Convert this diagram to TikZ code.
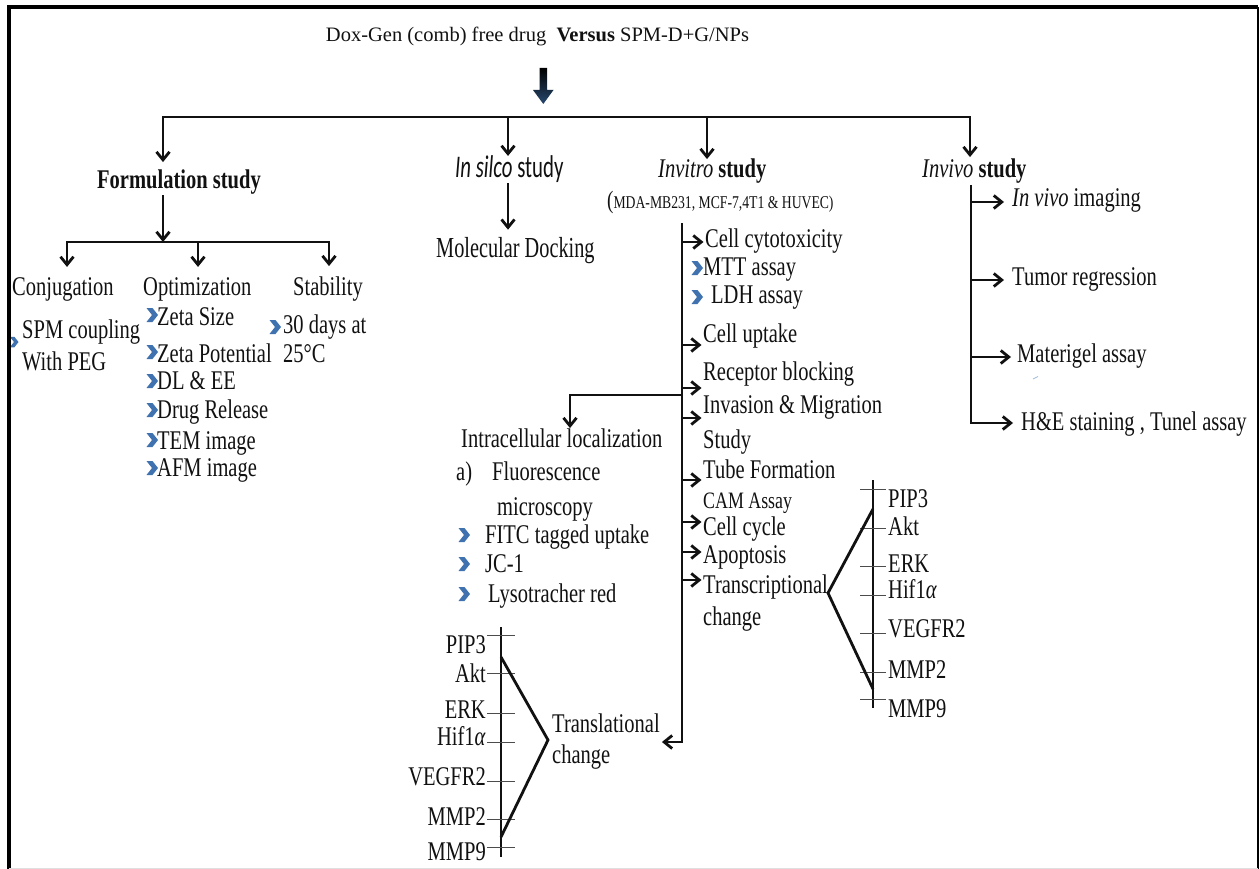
\documentclass[tikz,border=0pt]{standalone}
\usepackage{fontspec}
\setmainfont{Liberation Serif}
\newfontfamily\fcond{Liberation Serif}[FakeStretch=0.76]
\newfontfamily\fcondb{Liberation Serif}[FakeStretch=0.7]
\newfontfamily\fcal{Carlito}[FakeStretch=0.66]
\usetikzlibrary{arrows.meta}
\definecolor{chevc}{HTML}{3F72AF}
\definecolor{ink}{HTML}{111111}
\tikzset{
  txt/.style={font=\fcond\fontsize{27}{30}\selectfont, inner sep=0pt, anchor=base west, text=ink},
  txtb/.style={txt, font=\fcond\bfseries\fontsize{27}{30}\selectfont},
  small/.style={txt, font=\fcond\fontsize{18}{20}\selectfont},
  ln/.style={line width=2.8pt, draw=ink},
  arr/.style={ln, -{Straight Barb[length=8pt,width=13pt]}},
  tickln/.style={line width=1pt, draw=ink!75},
  axisln/.style={line width=2.2pt, draw=ink},
  chev/.pic={\fill[chevc] (-5.5,-7) -- (0.5,-7) -- (6,0) -- (0.5,7) -- (-5.5,7) -- (0,0) -- cycle;}
}
\begin{document}
\begin{tikzpicture}[x=1pt,y=-1pt]
\useasboundingbox (0,0) rectangle (1260,869);
\fill[white] (0,0) rectangle (1260,869);

% chevron partly under the frame
\pic[scale=0.75] at (14,342) {chev};

% frame
\draw[line width=4pt] (9,869) -- (9,7) -- (1258,7);
\draw[line width=2pt] (1258,7) -- (1258,869);
\draw[line width=1pt, gray!25] (9,868.5) -- (1258,868.5);

% title
\node[inner sep=0pt, anchor=base, font=\fontsize{20.5}{24}\selectfont, text=ink] (title) at (537.5,42)
  {Dox-Gen (comb) free drug\ \ \textbf{Versus} SPM-D+G/NPs};
\shade[top color=black, bottom color={rgb,255:red,40;green,72;blue,110}]
  (539.5,68) -- (547,68) -- (547,90) -- (553.5,90) -- (543.3,104) -- (533,90) -- (539.5,90) -- cycle;

% headers
\node[txtb] (form) at (97,189) {Formulation study};
\node[txt, font=\fcal\fontsize{31.5}{34}\selectfont] (silico) at (455,178) {\textit{In silco} study};
\node[txt] (invitro) at (658,178) {\textit{Invitro} \textbf{study}};
\node[txt] (invivo) at (922,178) {\textit{Invivo} \textbf{study}};

% main distribution line
\coordinate (mL) at (163,117);
\coordinate (mS) at (508,117);
\coordinate (mV) at (707,117);
\coordinate (mR) at (970,117);
\draw[arr, shorten >=8pt] (mR) -- (mL) -- (mL |- form.north);
\draw[arr, shorten >=2pt] (mL) -- (mR) -- (mR |- invivo.north);
\draw[arr] (mS) -- (mS |- silico.north);
\draw[arr] (mV) -- (mV |- invitro.north);

% formulation study
\node[txt] (conj) at (12,295) {Conjugation};
\node[txt] (opt) at (143,295) {Optimization};
\node[txt] (stab) at (293,295) {Stability};
\coordinate (fj) at (163,242);
\coordinate (fa) at (67,242);
\coordinate (fb) at (198,242);
\coordinate (fc) at (329,242);
\draw[arr] (fj |- form.south) -- (fj);
\draw[arr, shorten >=10pt] (fc) -- (fa) -- (fa |- conj.north);
\draw[arr, shorten >=10pt] (fa) -- (fc) -- (fc |- stab.north);
\draw[arr, shorten >=10pt] (fb) -- (fb |- opt.north);

\node[txt] (spm) at (22,338) {SPM coupling};
\node[txt] (peg) at (22,370) {With PEG};
\node[txt] (zs) at (157,325) {Zeta Size};
\node[txt] (zp) at (157,362) {Zeta Potential};
\node[txt] (dl) at (157,389) {DL \& EE};
\node[txt] (dr) at (157,418) {Drug Release};
\node[txt] (tem) at (157,449) {TEM image};
\node[txt] (afm) at (157,476) {AFM image};
\node[txt] (days) at (283,333) {30 days at};
\node[txt] (c25) at (283,362) {25°C};
\pic at (152,315) {chev};
\pic at (152,352) {chev};
\pic at (152,381) {chev};
\pic at (152,410) {chev};
\pic at (152,440) {chev};
\pic at (152,468) {chev};
\pic at (275,327) {chev};

% in silico
\node[txt, font=\fcondb\fontsize{29}{32}\selectfont] (dock) at (436,257) {Molecular Docking};
\draw[arr, shorten >=7pt] (mS |- silico.south) -- (mS |- dock.north);

% in vitro
\node[small] (cells) at (607,208) {{\fontsize{25}{25}\selectfont(}MDA-MB231, MCF-7,4T1 \& HUVEC)};
\node[txt] (cyt) at (705,247) {Cell cytotoxicity};
\node[txt] (mtt) at (703,275) {MTT assay};
\node[txt] (ldh) at (711,303) {LDH assay};
\node[txt] (upt) at (703,342) {Cell uptake};
\node[txt] (rec) at (703,380) {Receptor blocking};
\node[txt] (inv) at (703,413) {Invasion \& Migration};
\node[txt] (inv2) at (703,448) {Study};
\node[txt] (tube) at (703,478) {Tube Formation};
\node[txt, font=\fcond\fontsize{23.5}{26}\selectfont] (cam) at (703,508) {CAM Assay};
\node[txt] (cyc) at (703,535) {Cell cycle};
\node[txt] (apo) at (703,563) {Apoptosis};
\node[txt] (trans) at (703,593) {Transcriptional};
\node[txt] (trans2) at (703,625) {change};
\pic at (697,268) {chev};
\pic at (697,297) {chev};

\coordinate (tT) at (682,223);
\coordinate (tB) at (682,742);
\coordinate (b-cyt) at (682,242);
\coordinate (b-upt) at (682,345);
\coordinate (b-rec) at (682,388);
\coordinate (b-inv) at (682,418);
\coordinate (b-tube) at (682,480);
\coordinate (b-cyc) at (682,522);
\coordinate (b-apo) at (682,552);
\coordinate (b-trans) at (682,580);
\foreach \n in {cyt,upt,rec,inv,tube,cyc,apo,trans}
  \draw[arr, shorten >=1.5pt] (b-\n) -- (b-\n -| \n.west);

% intracellular localization
\node[txt] (intra) at (461,447) {Intracellular localization};
\node[txt] (ia) at (456,480) {a)};
\node[txt] (fluo) at (492,480) {Fluorescence};
\node[txt] (micro) at (497,515) {microscopy};
\node[txt] (fitc) at (485,543) {FITC tagged uptake};
\node[txt] (jc) at (485,572) {JC-1};
\node[txt] (lyso) at (488,602) {Lysotracher red};
\pic at (464,535) {chev};
\pic at (464,564) {chev};
\pic at (464,594) {chev};
\coordinate (bI) at (682,395);
\coordinate (bIc) at (570,395);
\draw[arr] (bI) -- (bIc) -- (bIc |- intra.north);

% translational change
\node[txt] (trl) at (552,732) {Translational};
\node[txt] (trl2) at (552,763) {change};
\draw[arr, shorten >=2pt] (tT) -- (tB) -- (tB -| trl.east);
\coordinate (tlT) at (501,627);
\coordinate (tlB) at (501,857);
\draw[axisln] (tlT) -- (tlB);
\foreach \y in {635,673,713,742,781,819,847}
  \draw[tickln] (487,\y) -- (515,\y);
\node[txt, anchor=base east] (lpip) at (486,653) {PIP3};
\node[txt, anchor=base east] (lakt) at (486,682) {Akt};
\node[txt, anchor=base east] (lerk) at (486,718) {ERK};
\node[txt, anchor=base east] (lhif) at (486,745) {Hif1\textit{α}};
\node[txt, anchor=base east] (lveg) at (486,785) {VEGFR2};
\node[txt, anchor=base east] (lmp2) at (486,825) {MMP2};
\node[txt, anchor=base east] (lmp9) at (486,860) {MMP9};
\coordinate (tlA) at (548,740);
\draw[ln, line join=miter] (501,657) -- (tlA) -- (501,837);

% transcriptional change
\coordinate (trT) at (873,480);
\coordinate (trB) at (873,708);
\draw[axisln] (trT) -- (trB);
\foreach \y in {489,528,566,595,633,672,699}
  \draw[tickln] (860,\y) -- (886,\y);
\node[txt] (rpip) at (888,507) {PIP3};
\node[txt] (rakt) at (888,535) {Akt};
\node[txt] (rerk) at (888,572) {ERK};
\node[txt] (rhif) at (888,598) {Hif1\textit{α}};
\node[txt] (rveg) at (888,637) {VEGFR2};
\node[txt] (rmp2) at (888,678) {MMP2};
\node[txt] (rmp9) at (888,717) {MMP9};
\coordinate (trA) at (828,593);
\draw[ln, line join=miter] (873,509) -- (trA) -- (873,689);

% in vivo
\node[txt] (iv1) at (1012,207) {\textit{In vivo} imaging};
\node[txt] (iv2) at (1012,285) {Tumor regression};
\node[txt] (iv3) at (1017,362) {Materigel assay};
\node[txt] (iv4) at (1021,430) {H\&E staining , Tunel assay};
\coordinate (vT) at (971,185);
\coordinate (vB) at (971,423);
\coordinate (v1) at (971,202);
\coordinate (v2) at (971,280);
\coordinate (v3) at (971,357);
\draw[arr, shorten >=8pt] (vT) -- (vB) -- (vB -| iv4.west);
\draw[arr, shorten >=8pt] (v1) -- (v1 -| iv1.west);
\draw[arr, shorten >=8pt] (v2) -- (v2 -| iv2.west);
\draw[arr, shorten >=6pt] (v3) -- (v3 -| iv3.west);
\draw[line width=0.8pt, chevc!50] (1033,379) -- (1038,376.5);
\end{tikzpicture}
\end{document}
